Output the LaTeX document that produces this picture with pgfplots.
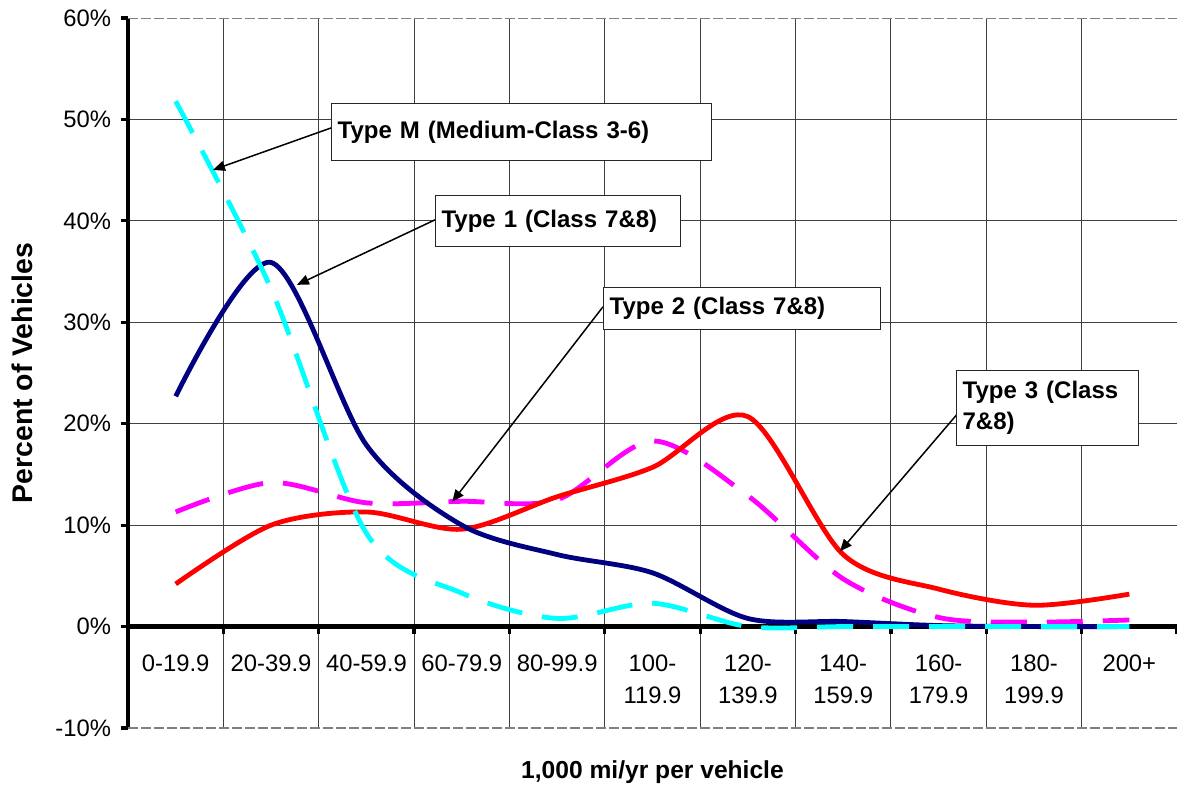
\documentclass[border=0pt]{standalone}
\usepackage{fontspec}
\setmainfont{Liberation Sans}
\usepackage{pgfplots}
\pgfplotsset{compat=1.18}
\usetikzlibrary{arrows.meta}
\definecolor{navyblue}{RGB}{0,0,128}
\definecolor{lineRed}{RGB}{255,0,0}
\definecolor{lineCyan}{RGB}{0,255,255}
\definecolor{lineMagenta}{RGB}{255,0,255}
\definecolor{gridgray}{RGB}{64,64,64}
\begin{document}
\begin{tikzpicture}
\begin{axis}[
  set layers=standard,
  scale only axis, width=524.5pt, height=355pt,
  xmin=-0.5, xmax=10.5, ymin=-10, ymax=60,
  axis x line=middle, axis y line=left,
  x axis line style={-, line width=2.5pt, black},
  y axis line style={-, line width=2pt, black},
  hide obscured x ticks=false, hide obscured y ticks=false,
  tick align=outside,
  major tick length=3.5pt,
  tick style={line width=1.6pt, black},
  xtick={-0.5,0.5,1.5,2.5,3.5,4.5,5.5,6.5,7.5,8.5,9.5,10.5},
  xticklabels={},
  xmajorgrids=true,
  extra x ticks={0,1,2,3,4,5,6,7,8,9,10},
  extra x tick labels={0-19.9,20-39.9,40-59.9,60-79.9,80-99.9,{100-\\119.9},{120-\\139.9},{140-\\159.9},{160-\\179.9},{180-\\199.9},200+},
  extra x tick style={grid=none, major tick length=0pt, tick style={draw=none}},
  ytick={-10,0,10,20,30,40,50,60},
  yticklabels={-10\%,0\%,10\%,20\%,30\%,40\%,50\%,60\%},
  extra y ticks={10,20,30,40,50},
  extra y tick labels={},
  extra y tick style={grid=major, major tick length=0pt, tick style={draw=none}},
  grid style={gridgray, line width=0.5pt},
  tick label style={font=\fontsize{11.9}{16.2}\selectfont},
  x tick label style={align=center, anchor=north, yshift=-10.5pt},
  y tick label style={xshift=-1.5pt},
  xlabel={1,000 mi/yr per vehicle},
  ylabel={Percent of Vehicles},
  xlabel style={font=\fontsize{12.3}{14}\selectfont\bfseries, at={([yshift=-22pt]axis description cs:0.5,0)}, anchor=center},
  ylabel style={font=\fontsize{14.2}{16}\selectfont\bfseries, at={([xshift=-53pt]axis description cs:0,0.5)}, anchor=center, rotate=0},
]
% Type 2 (magenta dashed)
\addplot[lineMagenta, line width=2.4pt, dash pattern=on 18pt off 10pt, smooth, tension=0.5] coordinates {
(0,11.3) (1,14.2) (2,12.2) (3,12.35) (4,12.5) (5,18.3) (6,12.9) (7,4.7) (8,0.9) (9,0.45) (10,0.65)};
% Type 3 (red)
\addplot[lineRed, line width=2.4pt, smooth, tension=0.5] coordinates {
(0,4.2) (1,10.0) (2,11.3) (3,9.6) (4,12.8) (5,15.7) (6,20.7) (7,7.1) (8,3.7) (9,2.1) (10,3.2)};
% Type 1 (navy)
\addplot[navyblue, line width=2.4pt, smooth, tension=0.5] coordinates {
(0,22.7) (1,35.9) (2,17.9) (3,10.0) (4,7.1) (5,5.3) (6,0.8) (7,0.5) (8,0.1) (9,0) (10,0)};
% Type M (cyan dashed)
\addplot[lineCyan, line width=2.4pt, dash pattern=on 18pt off 10pt, smooth, tension=0.5] coordinates {
(0,51.8) (1,33.3) (2,9.2) (3,3.3) (4,0.8) (5,2.3) (6,0) (7,0) (8,0) (9,0) (10,0)};
% frame lines top and bottom
\draw[gray, line width=0.6pt, dash pattern=on 5pt off 1.5pt] (axis cs:-0.5,60) -- (axis cs:10.5,60);
\draw[gray, line width=0.6pt, dash pattern=on 5pt off 1.5pt] (axis cs:-0.5,-10) -- (axis cs:10.5,-10);
% annotations
\draw[-{Triangle[length=6pt,width=5pt]}, line width=0.75pt] (axis cs:1.629,49.16) -- (axis cs:0.391,45.02);
\draw[-{Triangle[length=6pt,width=5pt]}, line width=0.75pt] (axis cs:2.719,40.10) -- (axis cs:1.272,33.69);
\draw[-{Triangle[length=6pt,width=5pt]}, line width=0.75pt] (axis cs:4.481,31.53) -- (axis cs:2.90,12.3);
\draw[-{Triangle[length=6pt,width=5pt]}, line width=0.75pt] (axis cs:8.19,20.89) -- (axis cs:6.966,7.42);
\tikzset{lab/.style={draw=black!85, line width=0.6pt, fill=white, anchor=north west, align=left, inner xsep=3pt, inner ysep=0pt, font=\fontsize{12}{15.5}\selectfont\bfseries}}
\node[lab, text width=184pt, minimum height=28.5pt] at (axis cs:1.629,51.63) {Type M (Medium-Class 3-6)};
\node[lab, text width=116.5pt, minimum height=25.5pt] at (axis cs:2.719,42.56) {Type 1 (Class 7\&8)};
\node[lab, text width=132.5pt, minimum height=21pt] at (axis cs:4.481,33.50) {Type 2 (Class 7\&8)};
\node[lab, text width=85pt, minimum height=37.5pt] at (axis cs:8.183,25.32) {Type 3 (Class\\7\&8)};
\coordinate (SW) at (axis cs:-0.5,-10);
\end{axis}
\pgfresetboundingbox
\path ([shift={(-64pt,-30.5pt)}]SW) rectangle ([shift={(524.5pt,364pt)}]SW);
\end{tikzpicture}
\end{document}
